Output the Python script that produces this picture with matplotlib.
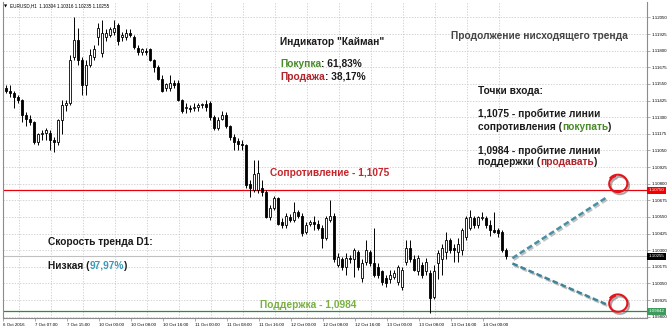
import matplotlib
matplotlib.use('Agg')
import matplotlib.pyplot as plt
import numpy as np
import matplotlib.patheffects as pe
from matplotlib.transforms import blended_transform_factory

# ---------------- data (EURUSD H1 candles) ----------------
opens = [1.1152,
    1.1150, 1.1148, 1.1145, 1.1143, 1.1132, 1.1129, 1.1126, 1.1111, 1.1117, 1.1118,
    1.1118, 1.1113, 1.1111, 1.1128, 1.1139, 1.1141, 1.1175, 1.1188, 1.1173, 1.1154,
    1.1169, 1.1175, 1.1190, 1.1178, 1.1190, 1.1192, 1.1194, 1.1199, 1.1190, 1.1190,
    1.1193, 1.1190, 1.1182, 1.1179, 1.1180, 1.1181, 1.1173, 1.1168, 1.1159, 1.1152,
    1.1152, 1.1156, 1.1156, 1.1143, 1.1137, 1.1137, 1.1137, 1.1138, 1.1139, 1.1140,
    1.1141, 1.1130, 1.1122, 1.1129, 1.1132, 1.1123, 1.1115, 1.1112, 1.1110, 1.1109,
    1.1080, 1.1075, 1.1075, 1.1077, 1.1074, 1.1055, 1.1062, 1.1069, 1.1051, 1.1049,
    1.1055, 1.1053, 1.1059, 1.1056, 1.1044, 1.1050, 1.1051, 1.1050, 1.1047, 1.1039,
    1.1053, 1.1056, 1.1019, 1.1023, 1.1017, 1.1024, 1.1023, 1.1029, 1.1009, 1.1021,
    1.1029, 1.1020, 1.1017, 1.1014, 1.1009, 1.1008, 1.1010, 1.1006, 1.1002, 1.1021,
    1.1032, 1.1023, 1.1014, 1.1019, 1.1014, 1.1013, 1.0995, 1.1020, 1.1023, 1.1029,
    1.1038, 1.1032, 1.1029, 1.1030, 1.1040, 1.1047, 1.1054, 1.1049, 1.1054, 1.1054,
    1.1049, 1.1045, 1.1045, 1.1044, 1.10304]
highs = [1.1154,
    1.1154, 1.1150, 1.1147, 1.1144, 1.1134, 1.1132, 1.1127, 1.1118, 1.1120, 1.1122,
    1.1120, 1.1115, 1.1129, 1.1143, 1.1143, 1.1177, 1.1205, 1.1197, 1.1175, 1.1173,
    1.1181, 1.1184, 1.1201, 1.1203, 1.1196, 1.1198, 1.1203, 1.1201, 1.1194, 1.1196,
    1.1196, 1.1192, 1.1184, 1.1182, 1.1182, 1.1182, 1.1174, 1.1169, 1.1162, 1.1156,
    1.1162, 1.1158, 1.1158, 1.1144, 1.1141, 1.1139, 1.1141, 1.1141, 1.1141, 1.1143,
    1.1142, 1.1132, 1.1130, 1.1135, 1.1134, 1.1124, 1.1117, 1.1114, 1.1113, 1.1110,
    1.1083, 1.1098, 1.1098, 1.1083, 1.1075, 1.1064, 1.1071, 1.1070, 1.1054, 1.1058,
    1.1057, 1.1066, 1.1060, 1.1058, 1.1051, 1.1053, 1.1056, 1.1053, 1.1049, 1.1056,
    1.1068, 1.1058, 1.1028, 1.1025, 1.1028, 1.1026, 1.1032, 1.1030, 1.1023, 1.1038,
    1.1030, 1.1047, 1.1020, 1.1015, 1.1011, 1.1015, 1.1015, 1.1019, 1.1017, 1.1038,
    1.1038, 1.1026, 1.1026, 1.1021, 1.1024, 1.1015, 1.1019, 1.1030, 1.1035, 1.1044,
    1.1039, 1.1035, 1.1039, 1.1047, 1.1056, 1.1060, 1.1056, 1.1056, 1.1059, 1.1056,
    1.1053, 1.1059, 1.1047, 1.1045, 1.10316]
lows = [1.1148,
    1.1145, 1.1137, 1.1141, 1.1126, 1.1123, 1.1124, 1.1110, 1.1109, 1.1113, 1.1113,
    1.1105, 1.1104, 1.1109, 1.1117, 1.1135, 1.1139, 1.1173, 1.1169, 1.1147, 1.1147,
    1.1168, 1.1173, 1.1184, 1.1175, 1.1187, 1.1190, 1.1192, 1.1184, 1.1187, 1.1188,
    1.1190, 1.1181, 1.1177, 1.1177, 1.1177, 1.1172, 1.1164, 1.1158, 1.1149, 1.1150,
    1.1150, 1.1152, 1.1142, 1.1133, 1.1133, 1.1134, 1.1135, 1.1135, 1.1137, 1.1135,
    1.1128, 1.1120, 1.1120, 1.1128, 1.1122, 1.1113, 1.1105, 1.1105, 1.1105, 1.1077,
    1.1070, 1.1074, 1.1073, 1.1071, 1.1054, 1.1053, 1.1060, 1.1049, 1.1047, 1.1047,
    1.1051, 1.1051, 1.1054, 1.1041, 1.1042, 1.1048, 1.1045, 1.1045, 1.1032, 1.1038,
    1.1051, 1.1021, 1.1017, 1.1015, 1.1011, 1.1020, 1.1010, 1.1015, 1.1006, 1.1019,
    1.1018, 1.1010, 1.1009, 1.1004, 1.1002, 1.1005, 1.1008, 1.1004, 1.1000, 1.1019,
    1.1021, 1.1014, 1.1011, 1.1009, 1.1011, 1.0983, 1.0993, 1.1008, 1.1011, 1.1023,
    1.1028, 1.1021, 1.1021, 1.1026, 1.1038, 1.1045, 1.1047, 1.1047, 1.1053, 1.1047,
    1.1041, 1.1043, 1.1040, 1.1029, 1.10235]
closes = [1.1150,
    1.1148, 1.1145, 1.1143, 1.1132, 1.1129, 1.1126, 1.1111, 1.1117, 1.1118, 1.1120,
    1.1113, 1.1111, 1.1128, 1.1139, 1.1141, 1.1173, 1.1188, 1.1173, 1.1154, 1.1169,
    1.1177, 1.1181, 1.1197, 1.1193, 1.1193, 1.1196, 1.1197, 1.1187, 1.1192, 1.1193,
    1.1192, 1.1183, 1.1179, 1.1181, 1.1179, 1.1173, 1.1168, 1.1159, 1.1150, 1.1155,
    1.1156, 1.1154, 1.1143, 1.1135, 1.1138, 1.1136, 1.1138, 1.1139, 1.1140, 1.1138,
    1.1130, 1.1122, 1.1128, 1.1132, 1.1123, 1.1115, 1.1111, 1.1110, 1.1109, 1.1079,
    1.1077, 1.1087, 1.1088, 1.1074, 1.1055, 1.1062, 1.1069, 1.1050, 1.1049, 1.1056,
    1.1053, 1.1059, 1.1056, 1.1043, 1.1049, 1.1051, 1.1050, 1.1047, 1.1039, 1.1054,
    1.1056, 1.1023, 1.1025, 1.1017, 1.1024, 1.1023, 1.1030, 1.1017, 1.1020, 1.1030,
    1.1020, 1.1011, 1.1011, 1.1006, 1.1005, 1.1011, 1.1013, 1.1017, 1.1015, 1.1032,
    1.1023, 1.1015, 1.1024, 1.1011, 1.1021, 1.0994, 1.1014, 1.1028, 1.1032, 1.1038,
    1.1030, 1.1030, 1.1035, 1.1045, 1.1054, 1.1055, 1.1049, 1.1055, 1.1055, 1.1049,
    1.1045, 1.1044, 1.1043, 1.1030, 1.10255]

time_labels = ["6 Oct 2016", "7 Oct 07:00", "7 Oct 15:00", "10 Oct 00:00", "10 Oct 08:00",
               "10 Oct 16:00", "11 Oct 00:00", "11 Oct 08:00", "11 Oct 16:00", "12 Oct 00:00",
               "12 Oct 08:00", "12 Oct 16:00", "13 Oct 00:00", "13 Oct 08:00", "13 Oct 16:00",
               "14 Oct 00:00"]
time_label_bars = [0, 8, 16, 24, 32, 40, 48, 56, 64, 72, 80, 88, 96, 104, 112, 120]
price_ticks = [1.09800, 1.09925, 1.10050, 1.10175, 1.10300, 1.10425, 1.10550, 1.10675,
               1.10800, 1.10925, 1.11050, 1.11175, 1.11300, 1.11425, 1.11550, 1.11675,
               1.11800, 1.11925, 1.12050]
resistance = 1.10750
support = 1.09842
last_price = 1.10255
header = "EURUSD,H1  1.10304 1.10316 1.10235 1.10255"

# projection from the last bar towards the two levels (bar index, price)
proj_start_bar, proj_end_bar = 126.6, 150.3
proj_up = (1.1024, 1.1070)
proj_down = (1.1020, 1.0989)
circle_bar = 153.0
circle_up_price, circle_down_price = 1.1080, 1.0990

# ---------------- figure ----------------
W, H = 670, 330
fig = plt.figure(figsize=(W / 100, H / 100), dpi=100)
fig.patch.set_facecolor('white')
ax = fig.add_axes([3 / W, 12 / H, 644 / W, 316 / H])
ax.set_facecolor('white')

o = np.array(opens); h = np.array(highs); l = np.array(lows); c = np.array(closes)
idx = np.arange(len(o))

ax.set_xlim(-0.75, 160.25)
ax.set_ylim(1.09790, 1.12166)

# grid
ax.set_yticks(price_ticks)
ax.set_yticklabels([f"{p:.5f}" for p in price_ticks])
ax.set_xticks(np.array(time_label_bars) - 0.75)
ax.set_xticklabels(time_labels)
ax.set_xticks(np.array(time_label_bars) + 3.25, minor=True)
ax.grid(axis='y', which='major', color='#c4c4c4', lw=0.5, ls=(0, (2, 2)))
ax.grid(axis='x', which='minor', color='#c4c4c4', lw=0.5, ls=(0, (2, 2)))
ax.set_axisbelow(True)

# level lines
ax.axhline(last_price, color='#c0c0c0', lw=0.8, zorder=1)
ax.axhline(resistance, color='#e8000b', lw=0.9, zorder=1)
ax.axhline(support, color='#2e8b3e', lw=0.9, zorder=1)

# candles
ax.vlines(idx, l, h, color='black', lw=0.7, zorder=2)
bull = c >= o
body_bot = np.minimum(o, c)
body_h = np.maximum(np.abs(c - o), 0.00003)
ax.bar(idx[bull], body_h[bull], bottom=body_bot[bull], width=0.72,
       facecolor='white', edgecolor='black', lw=0.6, zorder=3)
ax.bar(idx[~bull], body_h[~bull], bottom=body_bot[~bull], width=0.72,
       facecolor='black', edgecolor='black', lw=0.6, zorder=3)

# axes cosmetics
for s in ['left', 'right', 'bottom']:
    ax.spines[s].set_color('#8c8c8c')
    ax.spines[s].set_linewidth(0.8)
ax.spines['top'].set_visible(False)
ax.yaxis.tick_right()
ax.tick_params(axis='y', which='major', length=2, width=0.5, pad=1.5, labelsize=3.2,
               colors='#8c8c8c', labelcolor='black')
ax.tick_params(axis='x', which='major', length=2, width=0.5, pad=1.5, labelsize=3.2,
               colors='#8c8c8c', labelcolor='black')
ax.tick_params(axis='x', which='minor', length=0)
for t in ax.get_xticklabels():
    t.set_ha('left')
    t.set_family('Liberation Sans')
for t in ax.get_yticklabels():
    t.set_family('Liberation Sans')

# price boxes on right axis
btr = blended_transform_factory(ax.transAxes, ax.transData)
for val, fc in [(resistance, '#f00000'), (last_price, '#000000'), (support, '#3c9a5c')]:
    ax.text(1.0 + 2 / 644, val, f"{val:.5f}", transform=btr, fontsize=3.2, color='white',
            family='Liberation Sans', va='center', ha='left', clip_on=False, zorder=6,
            bbox=dict(boxstyle='square,pad=0.35', fc=fc, ec='none'))

# projection dashed lines
shadow = [pe.SimpleLineShadow(offset=(1, -1.2), shadow_color='#7a7a7a', alpha=0.45), pe.Normal()]
ax.plot([proj_start_bar, proj_end_bar], list(proj_up), color='#4a8fa3', lw=1.8,
        ls=(0, (2.3, 1.2)), zorder=5, path_effects=shadow, solid_capstyle='butt')
ax.plot([proj_start_bar, proj_end_bar], list(proj_down), color='#3f8399', lw=1.8,
        ls=(0, (2.3, 1.2)), zorder=5, path_effects=shadow)

# hand-drawn circles
th = np.linspace(0.62 * np.pi, 2.78 * np.pi, 150)
rr = 1.0 + 0.14 * (th - th[0]) / (th[-1] - th[0])
rx, ry = 2.15, 0.00060
for cy in (circle_up_price, circle_down_price):
    ax.plot(circle_bar + rx * rr * np.cos(th), cy + ry * rr * np.sin(th),
            color='#e3141b', lw=1.5, zorder=6, clip_on=False,
            path_effects=[pe.SimpleLineShadow(offset=(1.2, -1.5), shadow_color='#555555', alpha=0.5),
                          pe.Normal()])

# ---------------- texts ----------------
renderer = fig.canvas.get_renderer()
FS = 7.3
FAM = ['Liberation Sans', 'DejaVu Sans']


def seg_text(x_px, y_px, parts, size=FS):
    x = x_px
    for s, col in parts:
        t = fig.text(x / W, 1 - y_px / H, s, color=col, fontsize=size, fontweight='bold',
                     family=FAM, va='center', ha='left')
        x += t.get_window_extent(renderer=renderer).width


BLACK = '#1a1a1a'
GREEN = '#4a8a2a'
RED = '#b0232a'

fig.text(4 / W, 1 - 6 / H, "\u25bc", fontsize=3.0, family='DejaVu Sans', va='center', ha='left')
fig.text(10 / W, 1 - 6 / H, header, fontsize=3.3, family=FAM, va='center', ha='left')

seg_text(280, 42, [('Индикатор "Кайман"', BLACK)])
seg_text(280, 64, [('Покупка', GREEN), (': 61,83%', BLACK)])
seg_text(280, 76.5, [('Продажа', RED), (': 38,17%', BLACK)])
seg_text(451, 36, [('Продолжение нисходящего тренда', '#454545')])
seg_text(478, 91, [('Точки входа:', BLACK)])
seg_text(478, 114, [('1,1075 - пробитие линии', BLACK)])
seg_text(478, 126.5, [('сопротивления (', BLACK), ('покупать', GREEN), (')', BLACK)])
seg_text(478, 151, [('1,0984 - пробитие линии', BLACK)])
seg_text(478, 162, [('поддержки (', BLACK), ('продавать', RED), (')', BLACK)])
seg_text(270, 173, [('Сопротивление - 1,1075', '#c4262c')])
seg_text(260, 305, [('Поддержка - 1,0984', '#78b043')])
seg_text(48, 242, [('Скорость тренда D1:', BLACK)])
seg_text(48, 266, [('Низкая (', BLACK), ('97,97%', '#3a98b8'), (')', BLACK)])

fig.savefig('out.png', dpi=100, facecolor='white')
